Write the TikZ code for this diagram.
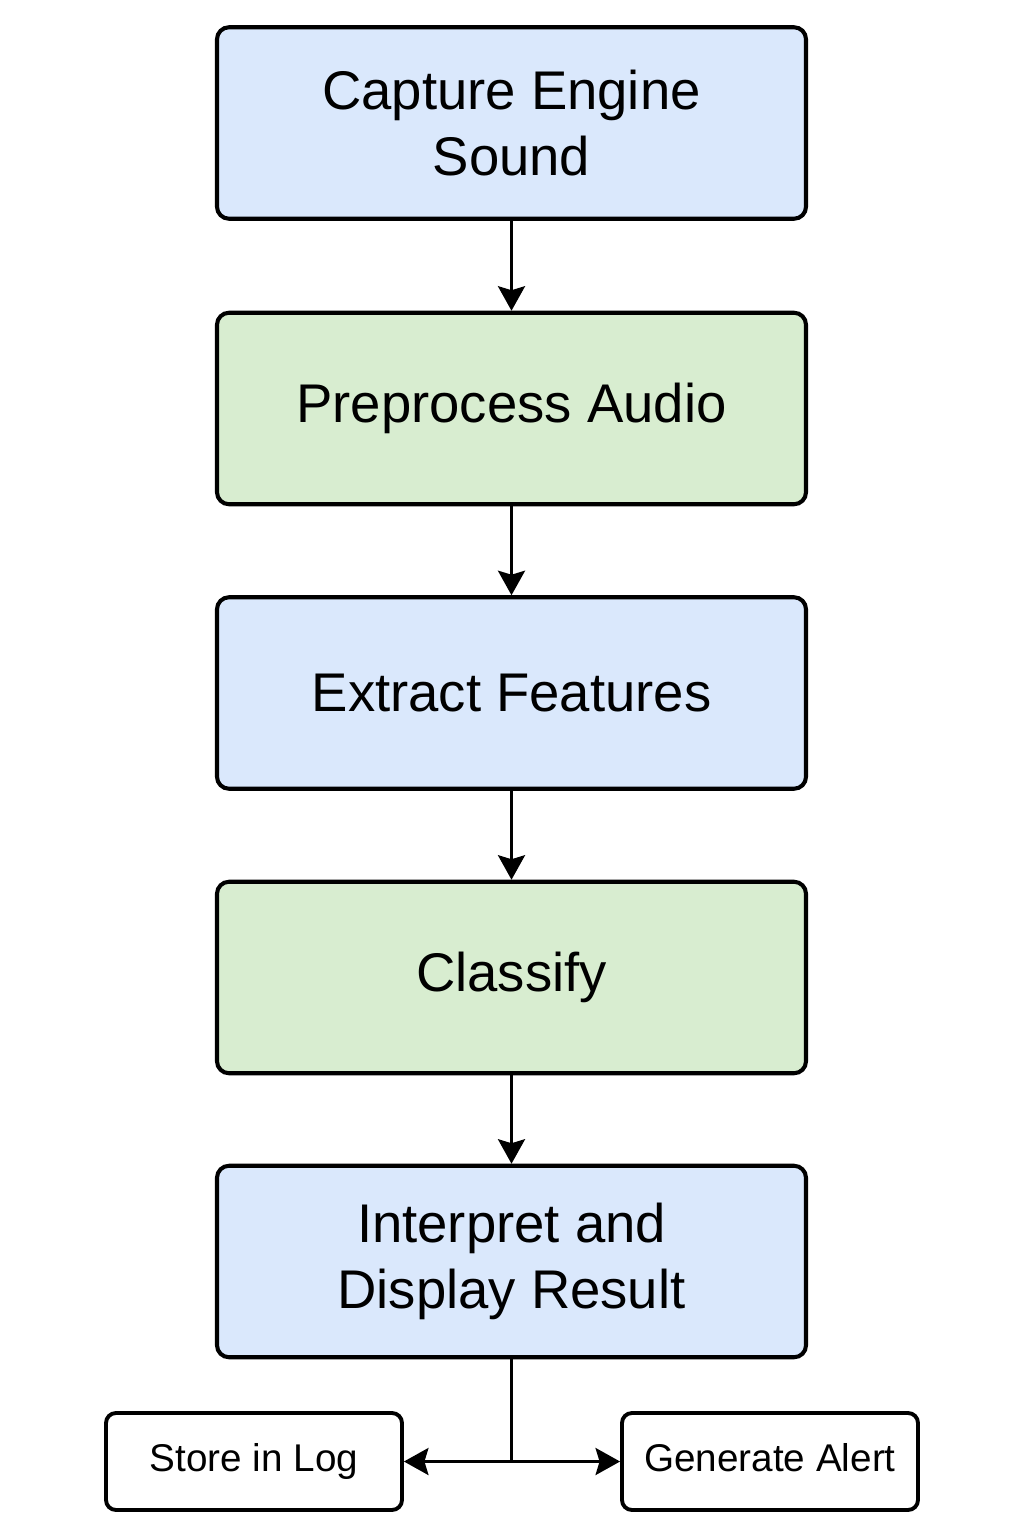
\documentclass[tikz,border=0pt]{standalone}
\usepackage{fontspec}
\setmainfont{Liberation Sans}
\usetikzlibrary{arrows.meta,positioning}

\definecolor{stepblue}{HTML}{DAE8FC}
\definecolor{stepgreen}{HTML}{D8EDD0}

\begin{document}
\begin{tikzpicture}[
    font=\fontsize{31}{38}\selectfont,
    >=Stealth,
    block/.style={draw, rounded corners=2.4mm, line width=2.3pt, align=center, minimum width=117.8mm, minimum height=38.3mm, inner sep=0pt},
    stage/.style={block, fill=stepblue},
    process/.style={block, fill=stepgreen},
    sink/.style={draw, rounded corners=2mm, line width=2.2pt, align=center, minimum width=59.2mm, minimum height=19.4mm, inner sep=0pt, text height=5.6mm, text depth=1.6mm, font=\fontsize{22}{26}\selectfont},
    arrow/.style={-{Stealth[length=4.9mm,width=5.4mm,inset=0.8mm]}, line width=1.7pt}
]
\useasboundingbox (0, 0) rectangle (20.48, -30.72);

\node[stage] (capture) at (10.23, -2.46) {Capture Engine\\Sound};
\node[process] (preprocess) at (10.23, -8.17) {Preprocess Audio};
\node[stage] (extract) at (10.23, -13.86) {Extract Features};
\node[process] (classify) at (10.23, -19.55) {Classify};
\node[stage] (interpret) at (10.23, -25.23) {Interpret and\\Display Result};

\node[sink] (storelog) at (5.08, -29.23) {Store in Log};
\node[sink] (alert) at (15.40, -29.23) {Generate Alert};
\coordinate (split) at (10.23, -29.23);

\draw[arrow] (capture.south) -- (preprocess.north);
\draw[arrow] (preprocess.south) -- (extract.north);
\draw[arrow] (extract.south) -- (classify.north);
\draw[arrow] (classify.south) -- (interpret.north);

\draw[line width=1.7pt] (interpret.south) -- (split);
\draw[arrow] (split) -- (storelog.east);
\draw[arrow] (split) -- (alert.west);
\end{tikzpicture}
\end{document}
